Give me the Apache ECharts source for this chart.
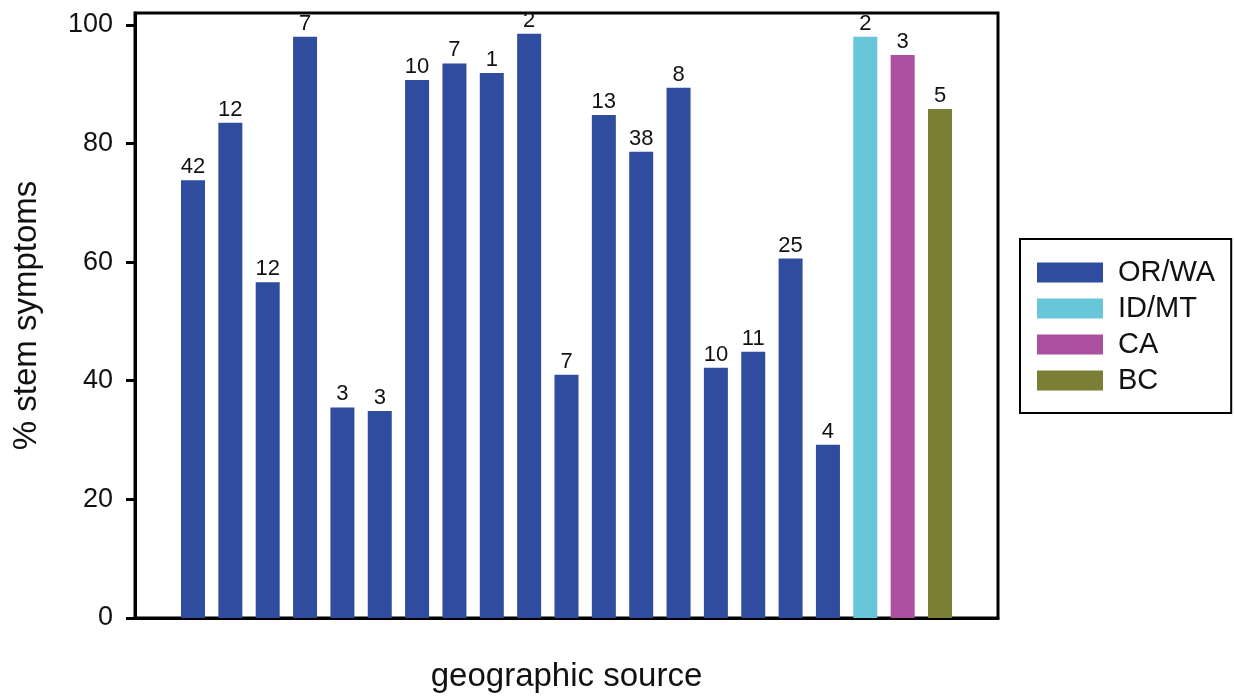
<!DOCTYPE html>
<html>
<head>
<meta charset="utf-8">
<script src="https://cdn.jsdelivr.net/npm/echarts@6/dist/echarts.min.js"></script>
<style>
html,body{margin:0;padding:0;background:#fff;}
#chart{width:1234px;height:698px;}
</style>
</head>
<body>
<div id="chart"></div>
<script>
// ---- data ----
const regions = ['OR/WA', 'ID/MT', 'CA', 'BC'];
const regionColors = ['#2f4c9f', '#67c7d9', '#ac4f9e', '#7b7e35'];
const sourceRegion = ['OR/WA','OR/WA','OR/WA','OR/WA','OR/WA','OR/WA','OR/WA','OR/WA','OR/WA',
  'OR/WA','OR/WA','OR/WA','OR/WA','OR/WA','OR/WA','OR/WA','OR/WA','OR/WA','ID/MT','CA','BC'];
const percentStem = [73.8, 83.5, 56.6, 98.0, 35.5, 34.9, 90.7, 93.5, 91.9, 98.5, 41.0,
  84.8, 78.6, 89.4, 42.2, 44.9, 60.6, 29.2, 98.0, 94.9, 85.8];
const sampleN = [42, 12, 12, 7, 3, 3, 10, 7, 1, 2, 7, 13, 38, 8, 10, 11, 25, 4, 2, 3, 5];
const yTicks = [0, 20, 40, 60, 80, 100];

const FONT = '"Liberation Sans", Arial, sans-serif';

const series = regions.map((r, ri) => ({
  name: r,
  type: 'bar',
  stack: 'all',
  barWidth: 24,
  itemStyle: { color: regionColors[ri] },
  encode: { x: 0, y: 1 },
  data: percentStem.map((v, i) => [i, v, sampleN[i]]).filter((d, i) => sourceRegion[i] === r),
  label: {
    show: true,
    position: 'top',
    distance: 2,
    color: '#111',
    fontFamily: FONT,
    fontSize: 22,
    formatter: p => String(p.value[2])
  }
}));

const chart = echarts.init(document.getElementById('chart'), null, { renderer: 'canvas' });
chart.setOption({
  animation: false,
  backgroundColor: '#fff',
  grid: {
    left: 135, right: 236, top: 13, bottom: 80,
    show: true, borderColor: '#000', borderWidth: 3,
    containLabel: false, outerBoundsMode: 'none'
  },
  legend: {
    orient: 'vertical',
    left: 1020, top: 239,
    icon: 'rect',
    itemWidth: 66, itemHeight: 20, itemGap: 7,
    padding: [19, 16, 18, 17],
    borderColor: '#000', borderWidth: 2,
    textStyle: { fontFamily: FONT, fontSize: 29, color: '#111', padding: [0, 0, 0, 10] },
    data: regions
  },
  xAxis: {
    type: 'value',
    min: -1.553, max: 21.553,
    name: 'geographic source',
    nameLocation: 'middle',
    nameGap: 42,
    nameTextStyle: { fontFamily: FONT, fontSize: 33, color: '#111' },
    axisLine: { show: true, onZero: false, lineStyle: { color: '#000', width: 3 } },
    axisTick: { show: false },
    axisLabel: { show: false },
    splitLine: { show: false }
  },
  yAxis: {
    type: 'value',
    min: 0, max: 102,
    interval: 20,
    name: '% stem symptoms',
    nameLocation: 'middle',
    nameGap: 92,
    nameTextStyle: { fontFamily: FONT, fontSize: 33, color: '#111' },
    axisLine: { show: true, onZero: false, lineStyle: { color: '#000', width: 3 } },
    axisTick: { show: true, inside: false, length: 9, lineStyle: { color: '#000', width: 3 }, customValues: yTicks },
    axisLabel: { fontFamily: FONT, fontSize: 27, color: '#111', margin: 22, customValues: yTicks },
    splitLine: { show: false }
  },
  series: series
});
</script>
</body>
</html>
